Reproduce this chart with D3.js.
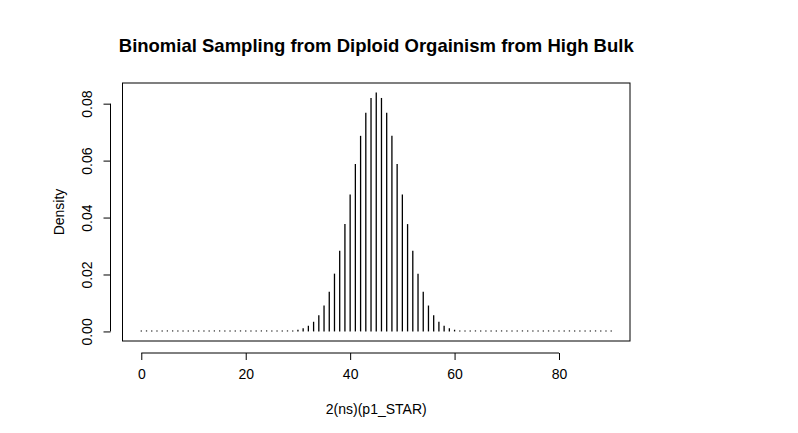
<!DOCTYPE html>
<html lang="en">
  <head>
    <meta charset="utf-8" />
    <title>binomial sampling</title>
    <script type="text/javascript" src="https://d3js.org/d3.v7.min.js"></script>
    <style>
      body { margin: 0; background: #fff; }
      text { font-family: "Liberation Sans", Arial, sans-serif; }
    </style>
  </head>
  <body>
    <div id="graph"></div>
    <script type="text/javascript">
      /********************************
       * data
       ********************************/
      // counts 0..90; density estimates, symmetric about 45
      const counts = d3.range(0, 91);
      const upperHalf = [
        0.0839, 0.0820, 0.0768, 0.0687, 0.0588, 0.0481, 0.0377, 0.0283,
        0.0203, 0.0139, 0.0091, 0.0057, 0.0034, 0.0020, 0.0011, 0.0006,
        0.0003, 0.00013, 0.00006, 0.00002, 0.00001,
      ];
      const density = counts.map((k) => upperHalf[Math.abs(k - 45)] || 0);
      const xTicks = [0, 20, 40, 60, 80];
      const yTicks = [0, 0.02, 0.04, 0.06, 0.08];

      const width = 798;
      const height = 433;
      const plot = { left: 122.5, right: 630, top: 83, bottom: 341 };

      const svg = d3
        .select("div#graph")
        .append("svg")
        .attr("width", width)
        .attr("height", height);

      /****************************
       * scale (R style 4% padding)
       *************************/
      const xMax = 90;
      const yMax = d3.max(density);
      const xScale = d3
        .scaleLinear()
        .domain([-0.04 * xMax, 1.04 * xMax])
        .range([plot.left, plot.right]);
      const yScale = d3
        .scaleLinear()
        .domain([-0.04 * yMax, 1.04 * yMax])
        .range([plot.bottom, plot.top]);

      // box
      svg
        .append("rect")
        .attr("x", plot.left)
        .attr("y", plot.top)
        .attr("width", plot.right - plot.left)
        .attr("height", plot.bottom - plot.top)
        .attr("fill", "none")
        .attr("stroke", "#000");

      /*********************************
       * axes
       *******************************/
      const xAxisGroup = svg
        .append("g")
        .attr("transform", `translate(0,${plot.bottom + 12})`)
        .call(
          d3.axisBottom(xScale).tickValues(xTicks).tickSize(7).tickPadding(9)
        );
      xAxisGroup
        .select(".domain")
        .attr("d", `M${xScale(0)},0H${xScale(80)}`);

      const yAxisGroup = svg
        .append("g")
        .attr("transform", `translate(${plot.left - 12},0)`)
        .call(
          d3
            .axisLeft(yScale)
            .tickValues(yTicks)
            .tickFormat(d3.format(".2f"))
            .tickSize(7)
            .tickPadding(0)
        );
      yAxisGroup
        .select(".domain")
        .attr("d", `M0,${yScale(0)}V${yScale(0.08)}`);
      yAxisGroup
        .selectAll(".tick text")
        .attr("transform", "rotate(-90)")
        .attr("text-anchor", "middle")
        .attr("x", 0)
        .attr("y", -23)
        .attr("dy", "0.35em");

      svg.selectAll(".tick text").attr("font-size", 14).attr("fill", "#000");
      svg.selectAll(".domain, .tick line").attr("stroke", "#000");

      /*******************************
       * density lines (type = "h")
       *******************************/
      svg
        .append("g")
        .selectAll("line")
        .data(counts)
        .join("line")
        .attr("x1", (d) => xScale(d))
        .attr("x2", (d) => xScale(d))
        .attr("y1", yScale(0))
        .attr("y2", (d, i) => Math.min(yScale(density[i]), yScale(0) - 1))
        .attr("stroke", "#000")
        .attr("stroke-width", 1.3);

      /*******************************
       * labels
       *******************************/
      svg
        .append("text")
        .attr("x", (plot.left + plot.right) / 2)
        .attr("y", 52)
        .attr("text-anchor", "middle")
        .attr("font-size", 18.5)
        .attr("font-weight", "bold")
        .text("Binomial Sampling from Diploid Orgainism from High Bulk");

      svg
        .append("text")
        .attr("x", (plot.left + plot.right) / 2)
        .attr("y", 414)
        .attr("text-anchor", "middle")
        .attr("font-size", 14)
        .text("2(ns)(p1_STAR)");

      svg
        .append("text")
        .attr("transform", `translate(64,${(plot.top + plot.bottom) / 2}) rotate(-90)`)
        .attr("text-anchor", "middle")
        .attr("font-size", 14)
        .text("Density");
    </script>
  </body>
</html>
